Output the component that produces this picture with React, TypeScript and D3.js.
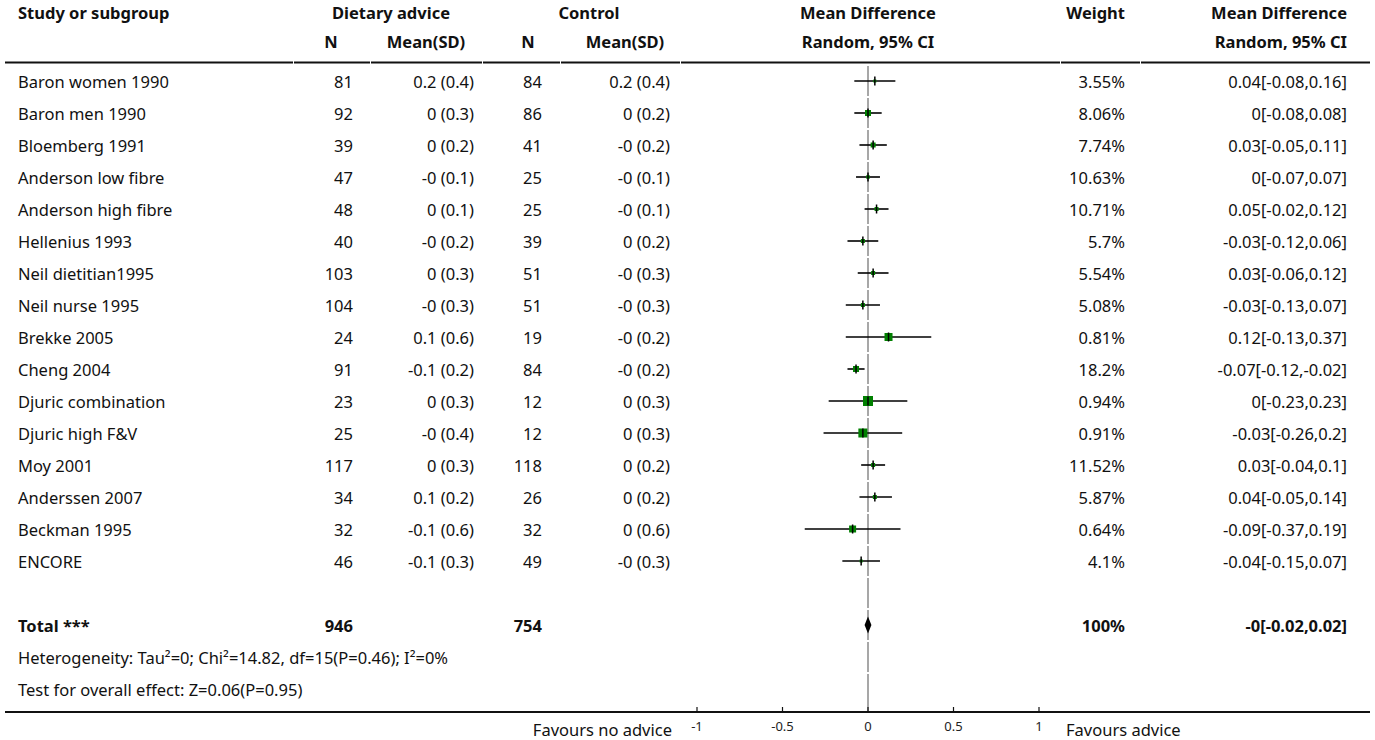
import React from "react";
import * as d3 from "d3";

// Study-level data
const studies = [
  "Baron women 1990", "Baron men 1990", "Bloemberg 1991", "Anderson low fibre",
  "Anderson high fibre", "Hellenius 1993", "Neil dietitian1995", "Neil nurse 1995",
  "Brekke 2005", "Cheng 2004", "Djuric combination", "Djuric high F&V",
  "Moy 2001", "Anderssen 2007", "Beckman 1995", "ENCORE",
];
const adviceN = [81, 92, 39, 47, 48, 40, 103, 104, 24, 91, 23, 25, 117, 34, 32, 46];
const adviceMeanSD = [
  "0.2 (0.4)", "0 (0.3)", "0 (0.2)", "-0 (0.1)", "0 (0.1)", "-0 (0.2)", "0 (0.3)", "-0 (0.3)",
  "0.1 (0.6)", "-0.1 (0.2)", "0 (0.3)", "-0 (0.4)", "0 (0.3)", "0.1 (0.2)", "-0.1 (0.6)", "-0.1 (0.3)",
];
const controlN = [84, 86, 41, 25, 25, 39, 51, 51, 19, 84, 12, 12, 118, 26, 32, 49];
const controlMeanSD = [
  "0.2 (0.4)", "0 (0.2)", "-0 (0.2)", "-0 (0.1)", "-0 (0.1)", "0 (0.2)", "-0 (0.3)", "-0 (0.3)",
  "-0 (0.2)", "-0 (0.2)", "0 (0.3)", "0 (0.3)", "0 (0.2)", "0 (0.2)", "0 (0.6)", "-0 (0.3)",
];
const weights = [3.55, 8.06, 7.74, 10.63, 10.71, 5.7, 5.54, 5.08, 0.81, 18.2, 0.94, 0.91, 11.52, 5.87, 0.64, 4.1];
const meanDiff = [0.04, 0, 0.03, 0, 0.05, -0.03, 0.03, -0.03, 0.12, -0.07, 0, -0.03, 0.03, 0.04, -0.09, -0.04];
const ciLow = [-0.08, -0.08, -0.05, -0.07, -0.02, -0.12, -0.06, -0.13, -0.13, -0.12, -0.23, -0.26, -0.04, -0.05, -0.37, -0.15];
const ciHigh = [0.16, 0.08, 0.11, 0.07, 0.12, 0.06, 0.12, 0.07, 0.37, -0.02, 0.23, 0.2, 0.1, 0.14, 0.19, 0.07];
// relative box scale used for each study's square marker
const boxScale = [3, 6, 5, 3.5, 4, 4, 4, 4, 8, 6, 10, 9, 4, 4, 7, 3];

// Pooled result
const totalAdviceN = 946;
const totalControlN = 754;
const totalWeight = 100;
const totalMD = -0;
const totalLow = -0.02;
const totalHigh = 0.02;
const heterogeneityText = "Heterogeneity: Tau\u00B2=0; Chi\u00B2=14.82, df=15(P=0.46); I\u00B2=0%";
const overallEffectText = "Test for overall effect: Z=0.06(P=0.95)";

// Axis
const axisDomain = [-1, 1];
const axisTicks = [-1, -0.5, 0, 0.5, 1];
const leftLabel = "Favours no advice";
const rightLabel = "Favours advice";

const fmt = (v: number) => (Object.is(v, -0) ? "-0" : String(v));

const FONT = "'Noto Sans', 'Open Sans', sans-serif";
const FS = 16.5;

export default function App() {
  const W = 1375;
  const H = 740;
  const x = d3.scaleLinear().domain(axisDomain).range([697, 1039]);
  const rowY = (i: number) => 81 + 32 * i;
  const rowH = 32;
  const axisY = 712;
  const lineLeft = 5;
  const lineRight = 1370;
  const baseOff = 7;

  // column anchors
  const colStudy = 18;
  const colAdvN = 353;
  const colAdvMean = 474;
  const colCtlN = 542;
  const colCtlMean = 670;
  const colWeight = 1125;
  const colCI = 1347;

  const totalRow = studies.length + 1;
  const hetRow = totalRow + 1;
  const testRow = totalRow + 2;

  const bs = d3.scaleLinear().domain([0, 10]).range([0, 10]);

  const headerBreaks = [lineLeft, 293, 370, 482, 560, 680, 1060, 1140, lineRight];

  const textProps = { fontFamily: FONT, fontSize: FS, fill: "#111" };

  // zero line segments, one per row cell
  const zeroSegs: [number, number][] = [];
  for (let i = 0; i <= testRow; i++) {
    const top = rowY(i) - rowH / 2 + 1;
    const bot = i === testRow ? axisY : rowY(i) + rowH / 2 - 1;
    zeroSegs.push([top, bot]);
  }

  return (
    <svg
      width={W}
      height={H}
      style={{ position: "absolute", left: 0, top: 0, background: "#fff" }}
    >
      {/* column headers */}
      <g fontFamily={FONT} fontSize={FS} fontWeight="bold" fill="#111">
        <text x={colStudy} y={19}>Study or subgroup</text>
        <text x={391} y={19} textAnchor="middle">Dietary advice</text>
        <text x={589} y={19} textAnchor="middle">Control</text>
        <text x={x(0)} y={19} textAnchor="middle">Mean Difference</text>
        <text x={colWeight} y={19} textAnchor="end">Weight</text>
        <text x={colCI} y={19} textAnchor="end">Mean Difference</text>
        <text x={331} y={48} textAnchor="middle">N</text>
        <text x={426} y={48} textAnchor="middle">Mean(SD)</text>
        <text x={528} y={48} textAnchor="middle">N</text>
        <text x={625} y={48} textAnchor="middle">Mean(SD)</text>
        <text x={x(0)} y={48} textAnchor="middle">Random, 95% CI</text>
        <text x={colCI} y={48} textAnchor="end">Random, 95% CI</text>
      </g>

      {/* header rule */}
      {headerBreaks.slice(0, -1).map((b, i) => (
        <line
          key={"hr" + i}
          x1={b + (i === 0 ? 0 : 1)}
          x2={headerBreaks[i + 1]}
          y1={62.5}
          y2={62.5}
          stroke="#111"
          strokeWidth={2}
        />
      ))}

      {/* null line */}
      {zeroSegs.map(([a, b], i) => (
        <line key={"z" + i} x1={x(0)} x2={x(0)} y1={a} y2={b} stroke="#8a8a8a" strokeWidth={1.5} />
      ))}

      {/* study rows */}
      {studies.map((s, i) => {
        const y = rowY(i);
        const by = y + baseOff;
        const size = bs(boxScale[i]);
        return (
          <g key={s}>
            <text {...textProps} x={colStudy} y={by}>{s}</text>
            <text {...textProps} x={colAdvN} y={by} textAnchor="end">{adviceN[i]}</text>
            <text {...textProps} x={colAdvMean} y={by} textAnchor="end">{adviceMeanSD[i]}</text>
            <text {...textProps} x={colCtlN} y={by} textAnchor="end">{controlN[i]}</text>
            <text {...textProps} x={colCtlMean} y={by} textAnchor="end">{controlMeanSD[i]}</text>
            <text {...textProps} x={colWeight} y={by} textAnchor="end">{fmt(weights[i])}%</text>
            <text {...textProps} x={colCI} y={by} textAnchor="end">
              {`${fmt(meanDiff[i])}[${fmt(ciLow[i])},${fmt(ciHigh[i])}]`}
            </text>
            <line x1={x(ciLow[i])} x2={x(ciHigh[i])} y1={y} y2={y} stroke="#000" strokeWidth={1.6} />
            <rect
              x={x(meanDiff[i]) - size / 2}
              y={y - size / 2}
              width={size}
              height={size}
              fill="#008000"
            />
            <line x1={x(meanDiff[i])} x2={x(meanDiff[i])} y1={y - 4.5} y2={y + 4.5} stroke="#000" strokeWidth={1.5} />
          </g>
        );
      })}

      {/* pooled row */}
      <g fontFamily={FONT} fontSize={FS} fontWeight="bold" fill="#111">
        <text x={colStudy} y={rowY(totalRow) + baseOff}>Total ***</text>
        <text x={colAdvN} y={rowY(totalRow) + baseOff} textAnchor="end">{totalAdviceN}</text>
        <text x={colCtlN} y={rowY(totalRow) + baseOff} textAnchor="end">{totalControlN}</text>
        <text x={colWeight} y={rowY(totalRow) + baseOff} textAnchor="end">{totalWeight}%</text>
        <text x={colCI} y={rowY(totalRow) + baseOff} textAnchor="end">
          {`${fmt(totalMD)}[${fmt(totalLow)},${fmt(totalHigh)}]`}
        </text>
      </g>
      <path
        d={`M${x(totalLow)},${rowY(totalRow)} L${x(totalMD)},${rowY(totalRow) - 8.5} L${x(totalHigh)},${rowY(totalRow)} L${x(totalMD)},${rowY(totalRow) + 8.5} Z`}
        fill="#000"
      />

      <text {...textProps} x={colStudy} y={rowY(hetRow) + baseOff}>{heterogeneityText}</text>
      <text {...textProps} x={colStudy} y={rowY(testRow) + baseOff}>{overallEffectText}</text>

      {/* axis */}
      <line x1={lineLeft} x2={lineRight} y1={axisY} y2={axisY} stroke="#111" strokeWidth={2} />
      {axisTicks.map((t) => (
        <g key={"t" + t}>
          <line x1={x(t)} x2={x(t)} y1={axisY - 5} y2={axisY} stroke="#111" strokeWidth={1.2} />
          <text x={x(t)} y={731} textAnchor="middle" fontFamily={FONT} fontSize={13} fill="#222">
            {String(t)}
          </text>
        </g>
      ))}
      <text {...textProps} x={672} y={736} textAnchor="end">{leftLabel}</text>
      <text {...textProps} x={1066} y={736}>{rightLabel}</text>
    </svg>
  );
}
